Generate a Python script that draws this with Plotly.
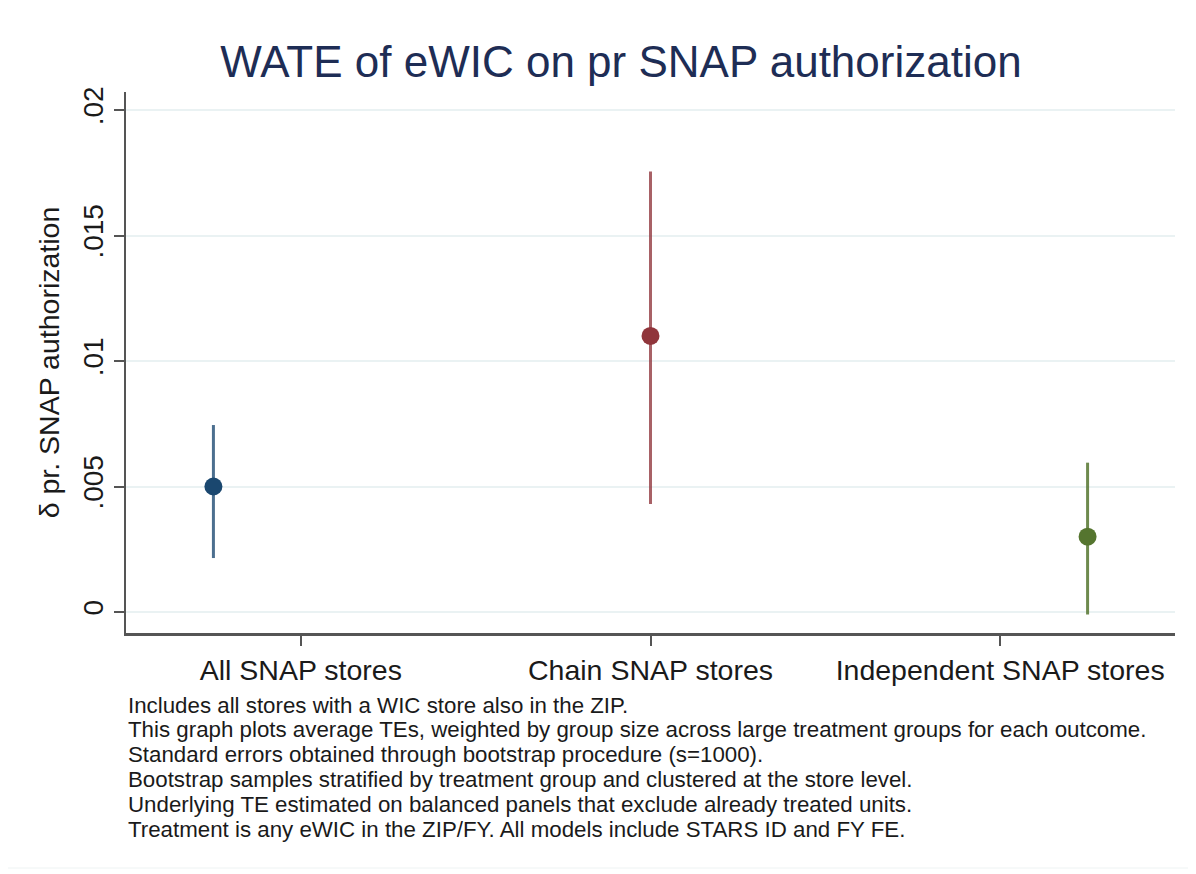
import plotly.graph_objects as go

categories = ["All SNAP stores", "Chain SNAP stores", "Independent SNAP stores"]
cat_ticks = [1, 2, 3]
x_pos = [0.75, 2.0, 3.25]
estimates = [0.0050, 0.0110, 0.0030]
ci_low = [0.00215, 0.00430, -0.00010]
ci_high = [0.00745, 0.01755, 0.00595]
marker_colors = ["#1a476f", "#90353b", "#55752f"]
bar_colors = ["rgba(26,71,111,0.78)", "rgba(144,53,59,0.78)", "rgba(85,117,47,0.85)"]
y_ticks = [0, 0.005, 0.01, 0.015, 0.02]
y_ticktext = ["0", ".005", ".01", ".015", ".02"]
notes = [
    "Includes all stores with a WIC store also in the ZIP.",
    "This graph plots average TEs, weighted by group size across large treatment groups for each outcome.",
    "Standard errors obtained through bootstrap procedure (s=1000).",
    "Bootstrap samples stratified by treatment group and clustered at the store level.",
    "Underlying TE estimated on balanced panels that exclude already treated units.",
    "Treatment is any eWIC in the ZIP/FY. All models include STARS ID and FY FE.",
]

OFF = 8  # page body margin
W, H = 1188, 866
L, T = 126 - OFF, 92 - OFF
R = W - (1175 - OFF)
B = H - (633 - OFF)
pw, ph = W - L - R, H - T - B

def px(xp):
    return (xp - OFF - L) / pw

def py(yp):
    return (H - B - (yp - OFF)) / ph

fig = go.Figure()
for i in range(len(categories)):
    fig.add_trace(go.Scatter(
        x=[x_pos[i]], y=[estimates[i]], mode="markers",
        marker=dict(color=marker_colors[i], size=18),
        error_y=dict(type="data", symmetric=False,
                     array=[ci_high[i] - estimates[i]],
                     arrayminus=[estimates[i] - ci_low[i]],
                     color=bar_colors[i], thickness=3, width=0),
        showlegend=False, name=categories[i],
    ))

fig.update_layout(
    width=W, height=H,
    margin=dict(l=L, r=R, t=T, b=B, pad=0, autoexpand=False),
    paper_bgcolor="white", plot_bgcolor="white",
    font=dict(family="Liberation Sans, Arial, sans-serif", color="#1a1a1a"),
    title=dict(text="WATE of eWIC on pr SNAP authorization",
               font=dict(size=44, color="#1e2d55"),
               x=(621 - OFF) / W, xref="container", xanchor="center",
               y=1 - (62 - OFF) / H, yanchor="middle"),
    xaxis=dict(range=[0.5, 3.5], tickvals=cat_ticks, ticktext=categories,
               showgrid=False, zeroline=False,
               showline=True, linecolor="#555555", linewidth=3,
               ticks="outside", ticklen=10, tickwidth=2, tickcolor="#555555",
               tickfont=dict(size=28.5, color="#1a1a1a")),
    yaxis=dict(range=[-0.000837, 0.02072], tickvals=y_ticks, ticktext=y_ticktext,
               showgrid=True, gridcolor="#eaf2f3", gridwidth=2, zeroline=False,
               showline=True, linecolor="#555555", linewidth=2,
               ticks="outside", ticklen=10, tickwidth=2, tickcolor="#555555",
               tickangle=-90, tickfont=dict(size=28, color="#1a1a1a"),
               title=dict(text="δ pr. SNAP authorization",
                          font=dict(size=28.5, color="#1a1a1a"), standoff=10)),
)

for k, line in enumerate(notes):
    fig.add_annotation(
        text=line, xref="paper", yref="paper",
        x=px(126), y=py(705 + 24.8 * k), xanchor="left", yanchor="middle",
        align="left", showarrow=False,
        font=dict(size=22.3, color="#1a1a1a"),
    )

fig.add_shape(type="rect", xref="paper", yref="paper",
              x0=px(6), x1=px(1190), y0=py(868), y1=py(7),
              line=dict(color="#eef3f3", width=1), fillcolor="rgba(0,0,0,0)",
              layer="below")

fig.write_html("out.html")
